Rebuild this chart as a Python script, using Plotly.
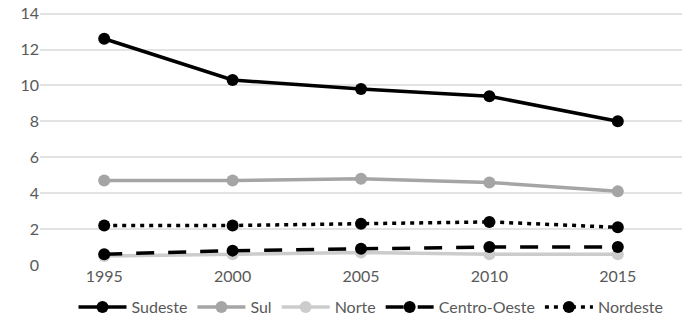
import plotly.graph_objects as go

years = ["1995", "2000", "2005", "2010", "2015"]
sudeste = [12.6, 10.3, 9.8, 9.4, 8.0]
sul = [4.7, 4.7, 4.8, 4.6, 4.1]
norte = [0.5, 0.6, 0.7, 0.6, 0.6]
centro_oeste = [0.6, 0.8, 0.9, 1.0, 1.0]
nordeste = [2.2, 2.2, 2.3, 2.4, 2.1]
y_ticks = [0, 2, 4, 6, 8, 10, 12, 14]

series = [
    ("Sudeste", sudeste, "#000000", "solid"),
    ("Sul", sul, "#A5A5A5", "solid"),
    ("Norte", norte, "#CCCCCC", "solid"),
    ("Centro-Oeste", centro_oeste, "#000000", "18px,14px"),
    ("Nordeste", nordeste, "#000000", "4px,5px"),
]

fig = go.Figure()
for name, vals, color, dash in series:
    fig.add_trace(go.Scatter(
        x=years, y=vals, name=name, mode="lines+markers",
        line=dict(color=color, width=3.5, dash=dash),
        marker=dict(color=color, size=12, symbol="circle"),
    ))

font_family = "Lato, 'Open Sans', sans-serif"
fig.update_layout(
    width=700, height=325,
    margin=dict(l=40, r=18, t=10, b=60, autoexpand=False),
    paper_bgcolor="white", plot_bgcolor="white",
    font=dict(family=font_family, size=16, color="#595959"),
    showlegend=True,
    legend=dict(orientation="h", x=0.53, xanchor="center", xref="container",
                y=0.055, yanchor="middle", yref="container",
                font=dict(size=16, color="#595959"), itemwidth=48,
                tracegroupgap=0, itemsizing="trace"),
    xaxis=dict(type="category", range=[-0.5, 4.5], showgrid=False, showline=False,
               ticks="", tickfont=dict(size=16, color="#595959")),
    yaxis=dict(range=[0, 14.2], tickvals=y_ticks, showgrid=True, gridcolor="#E3E3E3",
               gridwidth=1.5, zeroline=False, showline=False, ticks="",
               tickfont=dict(size=16, color="#595959")),
)
fig.write_html("out.html", post_script="document.body.style.margin='0';",
               config={"displayModeBar": False})
